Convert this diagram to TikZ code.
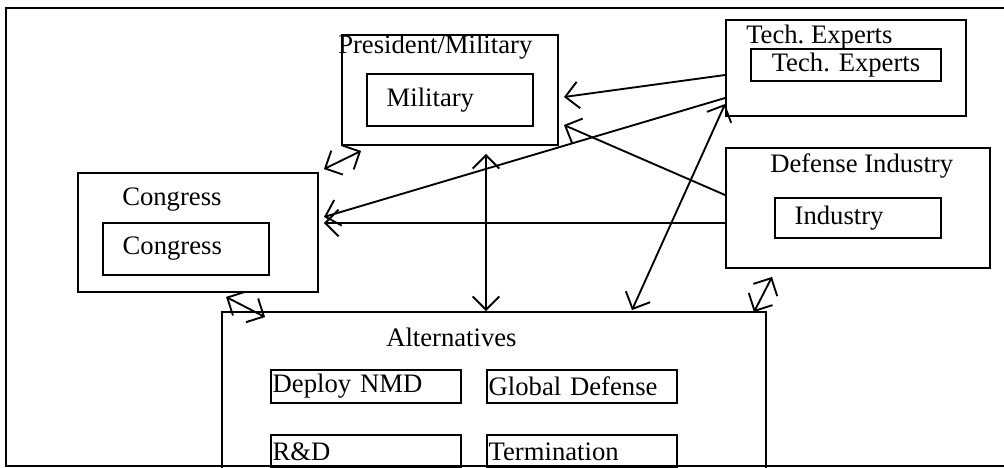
\documentclass[tikz,border=0pt]{standalone}
\usepackage{fontspec}
\setmainfont{Liberation Serif}
\frenchspacing
\usetikzlibrary{arrows.meta, calc}
\tikzset{
    groupbox/.style={rectangle, draw=black, line width=1.4pt, inner sep=0pt},
    itembox/.style={rectangle, draw=black, line width=1.4pt, inner ysep=0pt, align=left, font=\fontsize{20}{24}\selectfont},
    caption/.style={anchor=base west, inner sep=0pt, font=\fontsize{20}{24}\selectfont},
    arrow/.style={-{Straight Barb[length=10pt, width=20pt]}, line width=1.4pt},
    biarrow/.style={{Straight Barb[length=10pt, width=20pt]}-{Straight Barb[length=10pt, width=20pt]}, line width=1.4pt},
}
\begin{document}
\begin{tikzpicture}[x=0.75pt, y=-0.75pt]
    \useasboundingbox (0,0) rectangle (1004,468);
    \clip (0,0) rectangle (1004,468);

    % Frame
    \draw[line width=1.4pt] (1010,8) -- (6,8) -- (6,466) -- (1010,466);

    % Nodes
    \node[groupbox, minimum width=162pt, minimum height=82.5pt] (pres) at (450,90) {};
    \node[caption] (presLabel) at (338,53) {President/Military};
    \node[itembox, minimum height=39pt, inner xsep=15pt, text width=95pt] (military) at (450,100) {Military};

    \node[groupbox, minimum width=180pt, minimum height=89.25pt] (cong) at (198,232.5) {};
    \node[caption] (congLabel) at (122,205) {Congress};
    \node[itembox, minimum height=39pt, inner xsep=15pt, text width=95pt] (congress) at (186,249) {Congress};

    \node[groupbox, minimum width=180pt, minimum height=72pt] (tech) at (846,68) {};
    \node[caption] (techLabel) at (746,43) {Tech. Experts};
    \node[itembox, minimum height=24pt, inner xsep=4pt, text width=134pt, align=center] (experts) at (846,65) {Tech. Experts};

    \node[groupbox, minimum width=198pt, minimum height=90pt] (ind) at (858,208) {};
    \node[caption] (indLabel) at (770,172) {Defense Industry};
    \node[itembox, minimum height=30pt, inner xsep=15pt, text width=95pt] (industry) at (858,218) {Industry};

    \node[groupbox, minimum width=408pt, minimum height=156pt] (alt) at (494,416) {};
    \node[caption] (altLabel) at (386,346) {Alternatives};
    \node[itembox, minimum height=25pt, inner xsep=1.2pt, text width=140pt] (deploy) at (366,386.5) {Deploy NMD};
    \node[itembox, minimum height=25pt, inner xsep=1.2pt, text width=140pt] (global) at (582,386.5) {Global Defense};
    \node[itembox, minimum height=25pt, inner xsep=1.2pt, text width=140pt] (rnd) at (366,451.5) {R\&D};
    \node[itembox, minimum height=25pt, inner xsep=1.2pt, text width=140pt] (term) at (582,451.5) {Termination};

    % Edges
    \draw[biarrow] ($(pres.south west)+(20,5)$) -- ($(cong.north east)+(5,-3)$);
    \draw[arrow] ($(tech.west)+(0,7)$) -- ($(pres.east)+(5,7)$);
    \draw[arrow] ($(ind.west)+(0,-13)$) -- ($(pres.east)+(5,35)$);
    \draw[arrow] ($(tech.west)+(0,30)$) -- ($(cong.east)+(5,-15.5)$);
    \draw[arrow] ($(ind.west)+(0,15)$) -- ($(cong.east)+(5,-9.5)$);
    \draw[biarrow] ($(pres.south)+(36,8)$) -- ($(alt.north)+(-8,0)$);
    \draw[biarrow] ($(tech.west)+(0,36)$) -- ($(alt.north)+(138,-1)$);
    \draw[biarrow] ($(ind.south)+(-86,8)$) -- ($(alt.north east)+(-13,1)$);
    \draw[biarrow] ($(cong.south west)+(149,4)$) -- ($(alt.north west)+(44,6)$);
\end{tikzpicture}
\end{document}
